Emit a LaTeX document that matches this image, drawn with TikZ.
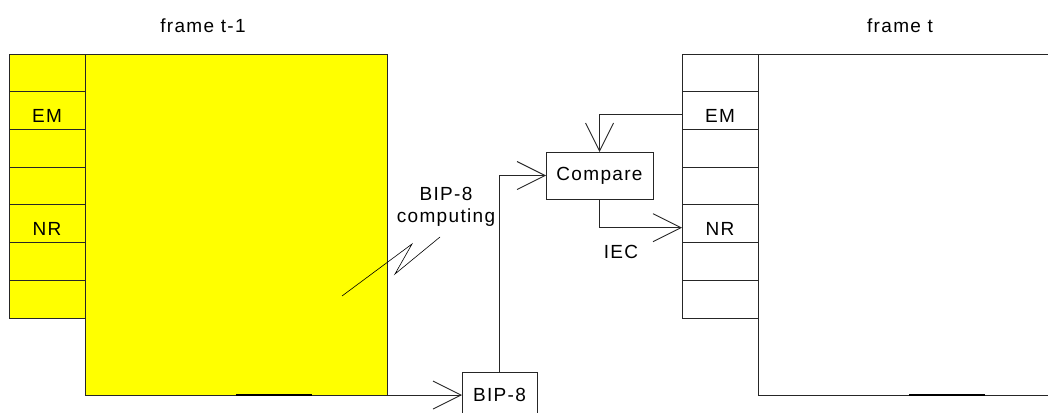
\documentclass[tikz,border=0pt]{standalone}
\usepackage{fontspec}
\setmainfont{Liberation Sans}[LetterSpace=7]
\usetikzlibrary{arrows.meta,calc}
\definecolor{yel}{RGB}{255,255,0}
\begin{document}
\begin{tikzpicture}[x=1pt,y=-1pt,
  every node/.style={font=\fontsize{19}{22}\selectfont, inner sep=0pt, outer sep=0pt},
  ln/.style={draw=black!85, line width=0.9pt},
  arr/.style={ln, -{Straight Barb[length=28pt,width=28pt,line width=0.9pt]}},
  cell/.style={ln, minimum width=76pt, minimum height=37.71pt, anchor=north west},
  mainbox/.style={ln, minimum width=302pt, minimum height=341pt, anchor=north west},
  box/.style={ln, fill=white},
]
\clip (0,0) rectangle (1048,412);
\fill[white] (0,0) rectangle (1048,412);

% titles
\node[anchor=base] (t1) at (203,33) {frame t-1};
\node[anchor=base] (t2) at (900,33) {frame t};

% frame t-1
\node[mainbox, fill=yel] (ymain) at (85,54) {};
\foreach \i in {0,...,6} {
  \node[cell, fill=yel] (L\i) at (9,54+\i*37.714) {};
  \node[cell, fill=white] (R\i) at (682,54+\i*37.714) {};
}
\node (lem) at ([yshift=-5pt]L1.center) {EM};
\node (lnr) at ([yshift=-5pt]L4.center) {NR};

% frame t
\node[mainbox] (wmain) at (758,54) {};
\node (rem) at ([yshift=-5pt]R1.center) {EM};
\node (rnr) at ([yshift=-5pt]R4.center) {NR};

% darker bottom segments
\draw[line width=1.8pt] (236,395) -- (312,395);
\draw[line width=1.8pt] (909,395) -- (985,395);

% boxes
\node[box, minimum width=107pt, minimum height=47pt] (cmp) at (599.5,175.5) {Compare};
\node[box, anchor=north, minimum width=75pt, minimum height=60pt] (bip) at (499.5,372) {};
\node (biptxt) at (499.5,395) {BIP-8};

% labels
\node[align=center] (bipc) at (446,207) {BIP-8\\computing};
\node (iec) at (621,251.5) {IEC};

% connectors
\draw[arr] (ymain.south east) -- (ymain.south east -| bip.west);
\draw[arr] (bip.north) |- (cmp.west);
\draw[arr] ([yshift=-4pt]R1.west) -| (cmp.north);
\draw[arr] (cmp.south) |- ([yshift=-4pt]R4.west);

% lightning callout
\coordinate (z0) at (342,296);
\coordinate (z1) at (412,244);
\coordinate (z2) at (395,274);
\coordinate (z3) at (440,237);
\draw[line width=0.6pt] (z0) -- (z1) -- (z2) -- (z3);
\end{tikzpicture}
\end{document}
